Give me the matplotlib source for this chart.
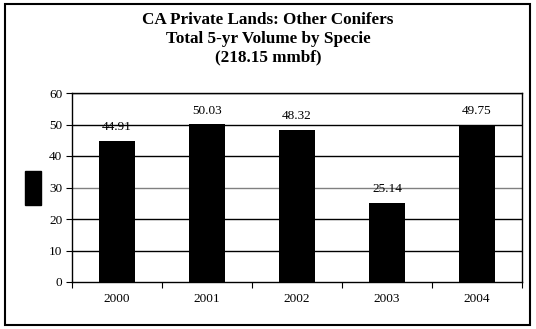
import matplotlib.pyplot as plt
from matplotlib.patches import Rectangle

years = ['2000', '2001', '2002', '2003', '2004']
volume = [44.91, 50.03, 48.32, 25.14, 49.75]
yticks = [0, 10, 20, 30, 40, 50, 60]

plt.rcParams['font.family'] = ['Liberation Serif', 'DejaVu Serif']

fig = plt.figure(figsize=(5.36, 3.29), dpi=100)

# outer chart border
fig.patches.append(Rectangle((5 / 536, 4 / 329), 525 / 536, 321 / 329,
                             transform=fig.transFigure, fill=False,
                             edgecolor='black', linewidth=1.5))

ax = fig.add_axes([72 / 536, 1 - 282 / 329, 450 / 536, 189 / 329])
x = list(range(len(years)))
ax.bar(x, volume, width=0.4, color='black', zorder=3)

ax.set_xlim(-0.5, len(years) - 0.5)
ax.set_ylim(0, 60)
ax.set_yticks(yticks)
ax.set_yticklabels([str(t) for t in yticks], fontsize=9.5)
for t in yticks[1:]:
    c = '#808080' if t == 30 else 'black'
    ax.axhline(t, color=c, linewidth=1, zorder=1)

ax.set_xticks([i - 0.5 for i in range(len(years) + 1)])
ax.set_xticklabels([])
ax.set_xticks(x, minor=True)
ax.set_xticklabels(years, minor=True, fontsize=9.5)
ax.tick_params(axis='x', which='minor', length=0, pad=8)
ax.tick_params(axis='x', which='major', length=4, direction='out')
ax.tick_params(axis='y', length=4, direction='out', pad=3)

for s in ax.spines.values():
    s.set_linewidth(1)

for xi, v in zip(x, volume):
    ax.text(xi, v + 2.5, f'{v:.2f}', ha='center', va='bottom', fontsize=9.5, zorder=4)

fig.text(0.5, 1 - 20 / 329, 'CA Private Lands: Other Conifers', ha='center', va='center',
         fontsize=12.3, fontweight='bold')
fig.text(0.5, 1 - 39 / 329, 'Total 5-yr Volume by Specie', ha='center', va='center',
         fontsize=12.3, fontweight='bold')
fig.text(0.5, 1 - 57 / 329, '(218.15 mmbf)', ha='center', va='center',
         fontsize=12.3, fontweight='bold')

# legend marker with no label
fig.patches.append(Rectangle((25 / 536, 1 - 205 / 329), 16 / 536, 34 / 329,
                             transform=fig.transFigure, color='black'))

fig.savefig('out.png', dpi=100)
